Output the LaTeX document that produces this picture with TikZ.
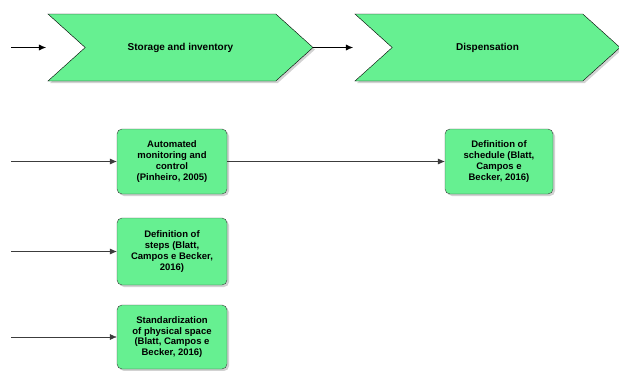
\documentclass[tikz,border=0pt]{standalone}
\usepackage{fontspec}
\setmainfont{Liberation Sans}
\usetikzlibrary{shapes.symbols,shadows,arrows.meta}
\definecolor{stepgreen}{RGB}{102,240,145}
\definecolor{edgegray}{RGB}{60,60,60}
\tikzset{
  stage/.style={signal, signal from=west, signal to=east, signal pointer angle=84,
    draw=black, fill=stepgreen, minimum width=265pt, minimum height=67pt,
    font=\fontsize{10}{12}\selectfont\bfseries,
    drop shadow={shadow xshift=2pt, shadow yshift=-2pt, fill=black!35}},
  task/.style={rectangle, rounded corners=5pt, draw=edgegray, fill=stepgreen,
    align=center, inner sep=1pt, font=\fontsize{9.5}{10.8}\selectfont\bfseries,
    drop shadow={shadow xshift=2pt, shadow yshift=-2pt, fill=black!35}},
  flow/.style={draw=edgegray, -{Latex[length=7pt,width=6pt]}}
}
\begin{document}
\begin{tikzpicture}[x=1pt,y=-1pt]
    \useasboundingbox (0,0) rectangle (619,370);
    % process steps
    \node[stage] (storage) at (180.5,47.5) {Storage and inventory};
    \node[stage] (dispense) at (487.5,47.5) {Dispensation};
    \coordinate (instart) at (11,47.5);
    \draw[flow, draw=black] (instart) -- ([xshift=-39pt]storage.west);
    \draw[flow, draw=black] (storage.east) -- ([xshift=-39pt]dispense.west);
    % activities
    \node[task, minimum width=110pt, minimum height=65pt] (monitor) at (172,161.5) {Automated\\monitoring and\\control\\(Pinheiro, 2005)};
    \node[task, minimum width=110pt, minimum height=67pt] (steps) at (172,251.5) {Definition of\\steps (Blatt,\\Campos e Becker,\\2016)};
    \node[task, minimum width=110pt, minimum height=64pt] (space) at (172,337) {Standardization\\of physical space\\(Blatt, Campos e\\Becker, 2016)};
    \node[task, minimum width=108pt, minimum height=65pt] (schedule) at (499,161.5) {Definition of\\schedule (Blatt,\\Campos e\\Becker, 2016)};
    \coordinate (in1) at (11,161.5);
    \coordinate (in2) at (11,251.5);
    \coordinate (in3) at (11,337);
    \draw[flow] (in1) -- (monitor.west);
    \draw[flow] (in2) -- (steps.west);
    \draw[flow] (in3) -- (space.west);
    \draw[flow] (monitor.east) -- (schedule.west);
\end{tikzpicture}
\end{document}
